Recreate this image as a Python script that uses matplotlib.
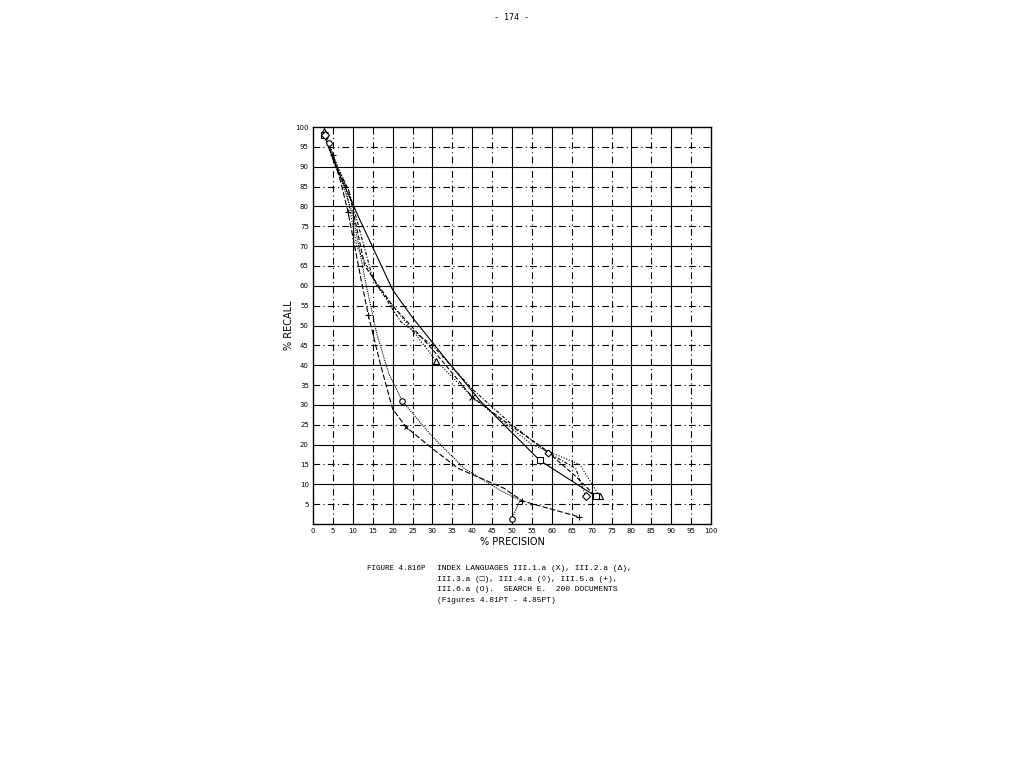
import matplotlib
matplotlib.use("Agg")
import matplotlib.pyplot as plt

# ---- data (precision %, recall %) ----
x_III1a = [3, 6, 9, 13, 20, 30, 40, 48, 58, 66, 71]
y_III1a = [98, 90, 84, 65, 55, 44, 32, 26, 19, 12, 7]

x_III2a = [2.8, 5, 8, 11, 16, 24, 31, 40, 55, 67, 72]
y_III2a = [99, 93, 86, 70, 60, 50, 41, 32, 20, 15, 7]

x_III3a = [2.8, 5, 8, 11.6, 20, 25, 33, 42, 57, 71]
y_III3a = [98, 92, 85, 77, 59, 52, 42, 31, 16, 7]

x_III4a = [3, 6, 9, 15, 22, 30, 40, 50, 59, 66, 68.5]
y_III4a = [98, 89, 84, 62, 51, 45, 34, 25, 18, 14, 7]

x_III5a = [5, 7, 8.8, 12, 13.9, 17, 20, 23.4, 30, 36.5, 48, 52.6, 66.8]
y_III5a = [93, 86, 78.6, 62, 52.6, 40, 29, 24.4, 19, 14, 9, 5.8, 1.8]

x_III6a = [4, 7, 10, 13, 16, 19, 22.4, 30, 38, 47, 52, 50]
y_III6a = [96, 87, 78, 62, 48, 38, 31, 22, 14, 8.5, 6, 1.3]

x_ticks = list(range(0, 101, 5))
y_ticks = list(range(5, 101, 5))

caption_head = "FIGURE 4.816P"
caption_lines = ["INDEX LANGUAGES III.1.a (X), III.2.a (\u0394),",
                 "III.3.a (\u25a1), III.4.a (\u25ca), III.5.a (+),",
                 "III.6.a (O).  SEARCH E.  200 DOCUMENTS",
                 "(Figures 4.81PT - 4.85PT)"]

fig = plt.figure(figsize=(10.24, 7.68), dpi=100)
fig.patch.set_facecolor("white")
ax = fig.add_axes([313/1024, 1-524/768, 398/1024, 397/768])
ax.set_xlim(0, 100)
ax.set_ylim(0, 100)

# graph-paper grid
for v in range(5, 100, 5):
    ls = "-" if v % 10 == 0 else (0, (6, 3, 1, 3))
    ax.axvline(v, color="black", lw=0.8, ls=ls, zorder=1)
    ax.axhline(v, color="black", lw=0.8, ls=ls, zorder=1)

series = [
    (x_III1a, y_III1a, "x", (0, (4, 2))),
    (x_III2a, y_III2a, "^", (0, (1, 1.5))),
    (x_III3a, y_III3a, "s", "-"),
    (x_III4a, y_III4a, "D", (0, (3, 1.5, 1, 1.5))),
    (x_III5a, y_III5a, "+", (0, (5, 2))),
    (x_III6a, y_III6a, "o", (0, (1, 1))),
]
for xs, ys, m, ls in series:
    ax.plot(xs, ys, color="black", lw=0.8, ls=ls, zorder=3)
    ax.plot([xs[0], xs[-1]], [ys[0], ys[-1]], ls="none", marker=m,
            ms=4, mfc="white", mec="black", mew=0.8, zorder=4)
# interior markers
ax.plot(x_III2a[6:7], y_III2a[6:7], "^", ms=4, mfc="white", mec="black", mew=0.8, zorder=4)
ax.plot(x_III1a[6:7], y_III1a[6:7], "x", ms=4, mec="black", mew=0.8, zorder=4)
ax.plot(x_III3a[8:9], y_III3a[8:9], "s", ms=4, mfc="white", mec="black", mew=0.8, zorder=4)
ax.plot(x_III4a[8:9], y_III4a[8:9], "D", ms=3.5, mfc="white", mec="black", mew=0.8, zorder=4)
ax.plot(x_III5a[2:3] + x_III5a[4:5] + x_III5a[11:12], y_III5a[2:3] + y_III5a[4:5] + y_III5a[11:12],
        "+", ms=5, mec="black", mew=0.8, ls="none", zorder=4)
ax.plot(x_III6a[6:7], y_III6a[6:7], "o", ms=4, mfc="white", mec="black", mew=0.8, zorder=4)
ax.plot(x_III5a[7:8], y_III5a[7:8], "x", ms=3.5, mec="black", mew=0.8, zorder=4)

ax.set_xticks(x_ticks)
ax.set_yticks(y_ticks)
ax.set_xticklabels([str(t) for t in x_ticks], fontsize=5, family="DejaVu Sans")
ax.set_yticklabels([str(t) for t in y_ticks], fontsize=5, family="DejaVu Sans")
ax.tick_params(length=0, pad=3)
for s in ax.spines.values():
    s.set_color("black")
    s.set_linewidth(1.0)

ax.set_xlabel("% PRECISION", fontsize=7, labelpad=2)
ax.set_ylabel("% RECALL", fontsize=7, labelpad=1)

fig.text(512/1024, 1-18/768, "- 174 -", fontsize=6, ha="center", va="center",
         family="DejaVu Sans Mono")
fig.text(367/1024, 1-568/768, caption_head, fontsize=5.4, ha="left", va="center",
         family=["Liberation Mono", "DejaVu Sans Mono"])
for i, line in enumerate(caption_lines):
    fig.text(437/1024, 1-(568 + 10.8*i)/768, line, fontsize=5.8, ha="left", va="center",
             family=["Liberation Mono", "DejaVu Sans Mono"])

fig.savefig("out.png", dpi=100, facecolor="white")
